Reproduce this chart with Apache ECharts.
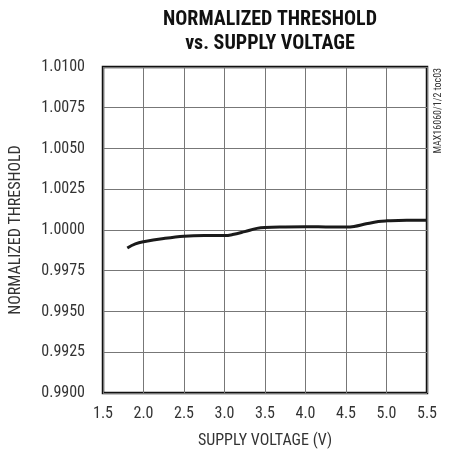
<!DOCTYPE html>
<html><head><meta charset="utf-8">
<script src="https://cdn.jsdelivr.net/npm/echarts@6/dist/echarts.min.js"></script>
<style>html,body{margin:0;padding:0;background:#fff}#c{width:451px;height:458px}</style>
</head><body><div id="c"></div>
<script>
const voltage = [1.8,1.9,2.0,2.25,2.5,2.75,3.0,3.1,3.25,3.4,3.5,3.75,4.0,4.25,4.5,4.6,4.75,4.9,5.0,5.25,5.5];
const threshold = [0.9989,0.99915,0.99928,0.99948,0.99962,0.99966,0.99966,0.99972,0.9999,1.0001,1.00016,1.00019,1.0002,1.00019,1.00018,1.00022,1.00038,1.00052,1.00056,1.0006,1.0006];
const titleText = "NORMALIZED THRESHOLD\nvs. SUPPLY VOLTAGE";
const xName = "SUPPLY VOLTAGE (V)";
const yName = "NORMALIZED THRESHOLD";
const sideNote = "MAX16060/1/2 toc03";
const font = "'Liberation Sans Narrow','Roboto Condensed','Liberation Sans',sans-serif";

const chart = echarts.init(document.getElementById('c'));
chart.setOption({
  animation:false,
  backgroundColor:'#fff',
  title:{text:titleText,left:265,top:3,textAlign:'center',
    textStyle:{fontFamily:font,fontWeight:'bold',fontSize:20,lineHeight:24,color:'#111'}},
  grid:{left:101,top:67,right:24,bottom:65,show:true,borderColor:'#111',borderWidth:2.5},
  xAxis:{type:'value',min:1.5,max:5.5,interval:0.5,
    name:xName,nameLocation:'middle',nameGap:40,
    nameTextStyle:{fontFamily:font,fontSize:16,color:'#333'},
    axisLine:{show:false},axisTick:{show:false},
    axisLabel:{fontFamily:font,fontSize:16,color:'#333',margin:13,formatter:v=>v.toFixed(1)},
    splitLine:{show:true,lineStyle:{color:'#777',width:1}}},
  yAxis:{type:'value',min:0.99,max:1.01,interval:0.0025,
    name:yName,nameLocation:'middle',nameGap:79,
    nameTextStyle:{fontFamily:font,fontSize:16,color:'#333'},
    axisLine:{show:false},axisTick:{show:false},
    axisLabel:{fontFamily:font,fontSize:16,color:'#333',margin:18,formatter:v=>v.toFixed(4)},
    splitLine:{show:true,lineStyle:{color:'#777',width:1}}},
  series:[{type:'line',data:voltage.map((v,i)=>[v,threshold[i]]),smooth:0.4,showSymbol:false,
    lineStyle:{color:'#1a1a1a',width:3}}],
  graphic:[{type:'text',x:438,y:68,rotation:Math.PI/2,
    style:{text:sideNote,fontFamily:font,fontSize:10,fill:'#333',textAlign:'right',textVerticalAlign:'middle'}}]
});
</script></body></html>
